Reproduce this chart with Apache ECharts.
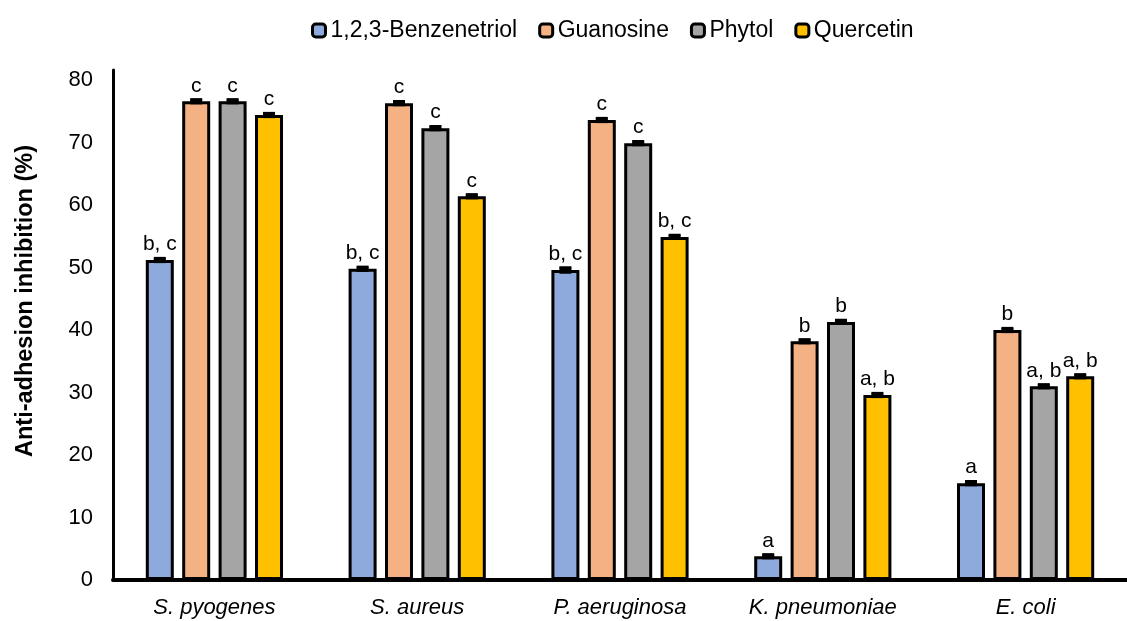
<!DOCTYPE html>
<html>
<head>
<meta charset="utf-8">
<script src="https://cdn.jsdelivr.net/npm/echarts@6/dist/echarts.min.js"></script>
<style>html,body{margin:0;padding:0;background:#fff}#c{width:1127px;height:621px}</style>
</head>
<body>
<div id="c"></div>
<script>
var categories = ['S. pyogenes', 'S. aureus', 'P. aeruginosa', 'K. pneumoniae', 'E. coli'];
var seriesNames = ['1,2,3-Benzenetriol', 'Guanosine', 'Phytol', 'Quercetin'];
var benzenetriol = [51.2, 49.8, 49.6, 3.8, 15.5];
var guanosine = [76.6, 76.3, 73.6, 38.2, 40.0];
var phytol = [76.6, 72.3, 69.9, 41.3, 31.0];
var quercetin = [74.4, 61.4, 54.9, 29.6, 32.6];
var errBenzenetriol = [0.3, 0.3, 0.4, 0.3, 0.3];
var errGuanosine = [0.3, 0.3, 0.3, 0.3, 0.3];
var errPhytol = [0.3, 0.3, 0.3, 0.3, 0.3];
var errQuercetin = [0.3, 0.3, 0.3, 0.3, 0.3];
var lettersBenzenetriol = ['b, c', 'b, c', 'b, c', 'a', 'a'];
var lettersGuanosine = ['c', 'c', 'c', 'b', 'b'];
var lettersPhytol = ['c', 'c', 'c', 'b', 'a, b'];
var lettersQuercetin = ['c', 'c', 'b, c', 'a, b', 'a, b'];
var yTicks = [0, 10, 20, 30, 40, 50, 60, 70, 80];

var colors = ['#8EA9DB', '#F4B183', '#A5A5A5', '#FFC000'];
var values = [benzenetriol, guanosine, phytol, quercetin];
var errors = [errBenzenetriol, errGuanosine, errPhytol, errQuercetin];
var letters = [lettersBenzenetriol, lettersGuanosine, lettersPhytol, lettersQuercetin];

var BAR_W = 28, GAP = 8.4;
var FONT = 'Liberation Sans, Arial, sans-serif';

var series = [];
values.forEach(function (vals, si) {
  series.push({
    name: seriesNames[si],
    type: 'bar',
    data: vals,
    barWidth: BAR_W,
    barGap: (GAP / BAR_W * 100) + '%',
    barCategoryGap: '30%',
    itemStyle: { color: colors[si], borderColor: '#000', borderWidth: 3 },
    label: {
      show: true, position: 'top', distance: 5,
      color: '#000', fontSize: 21, fontFamily: FONT,
      formatter: function (p) { return letters[si][p.dataIndex]; }
    },
    z: 2
  });
});
values.forEach(function (vals, si) {
  var data = vals.map(function (v, i) { return [i, v, errors[si][i]]; });
  series.push({
    type: 'custom',
    name: seriesNames[si] + ' err',
    data: data,
    z: 5,
    silent: true,
    renderItem: function (params, api) {
      var x = api.value(0), v = api.value(1), e = api.value(2);
      var top = api.coord([x, v + e]);
      var bot = api.coord([x, v - e]);
      var total = 4 * BAR_W + 3 * GAP;
      var off = -total / 2 + BAR_W / 2 + si * (BAR_W + GAP);
      var cx = top[0] + off;
      var hw = 6;
      return {
        type: 'group',
        children: [
          { type: 'line', shape: { x1: cx, y1: top[1], x2: cx, y2: bot[1] }, style: { stroke: '#000', lineWidth: 3 } },
          { type: 'line', shape: { x1: cx - hw, y1: top[1], x2: cx + hw, y2: top[1] }, style: { stroke: '#000', lineWidth: 2.5 } },
          { type: 'line', shape: { x1: cx - hw, y1: bot[1], x2: cx + hw, y2: bot[1] }, style: { stroke: '#000', lineWidth: 2.5 } },
          { type: 'rect', shape: { x: cx - hw, y: Math.min(top[1], bot[1]), width: 2 * hw, height: Math.abs(bot[1] - top[1]) }, style: { fill: '#000' } }
        ]
      };
    }
  });
});

var chart = echarts.init(document.getElementById('c'), null, { renderer: 'canvas' });
chart.setOption({
  animation: false,
  backgroundColor: '#fff',
  textStyle: { fontFamily: FONT },
  legend: {
    data: seriesNames,
    top: 14,
    left: 306,
    itemWidth: 13,
    itemHeight: 13,
    itemGap: 21,
    textStyle: { fontSize: 23, color: '#000', fontFamily: FONT },
    itemStyle: { borderColor: '#000', borderWidth: 3 }
  },
  grid: { left: 113, right: 0, top: 70, bottom: 41, containLabel: false },
  xAxis: {
    type: 'category',
    data: categories,
    axisLine: { lineStyle: { color: '#000', width: 4 } },
    axisTick: { show: false },
    axisLabel: { fontSize: 22, fontStyle: 'italic', color: '#000', margin: 17, fontFamily: FONT }
  },
  yAxis: {
    type: 'value',
    min: yTicks[0],
    max: 81.6,
    interval: 10,
    name: 'Anti-adhesion inhibition (%)',
    nameLocation: 'middle',
    nameGap: 75,
    nameRotate: 90,
    nameTextStyle: { fontSize: 23.5, fontWeight: 'bold', color: '#000', fontFamily: FONT, padding: [0, 0, 0, 48] },
    axisLine: { show: true, lineStyle: { color: '#000', width: 3 } },
    axisTick: { show: false },
    splitLine: { show: false },
    axisLabel: {
      fontSize: 22, color: '#000', margin: 20, fontFamily: FONT, showMaxLabel: false,
      formatter: function (v) { return yTicks.indexOf(v) >= 0 ? String(v) : ''; }
    }
  },
  series: series
});
</script>
</body>
</html>
